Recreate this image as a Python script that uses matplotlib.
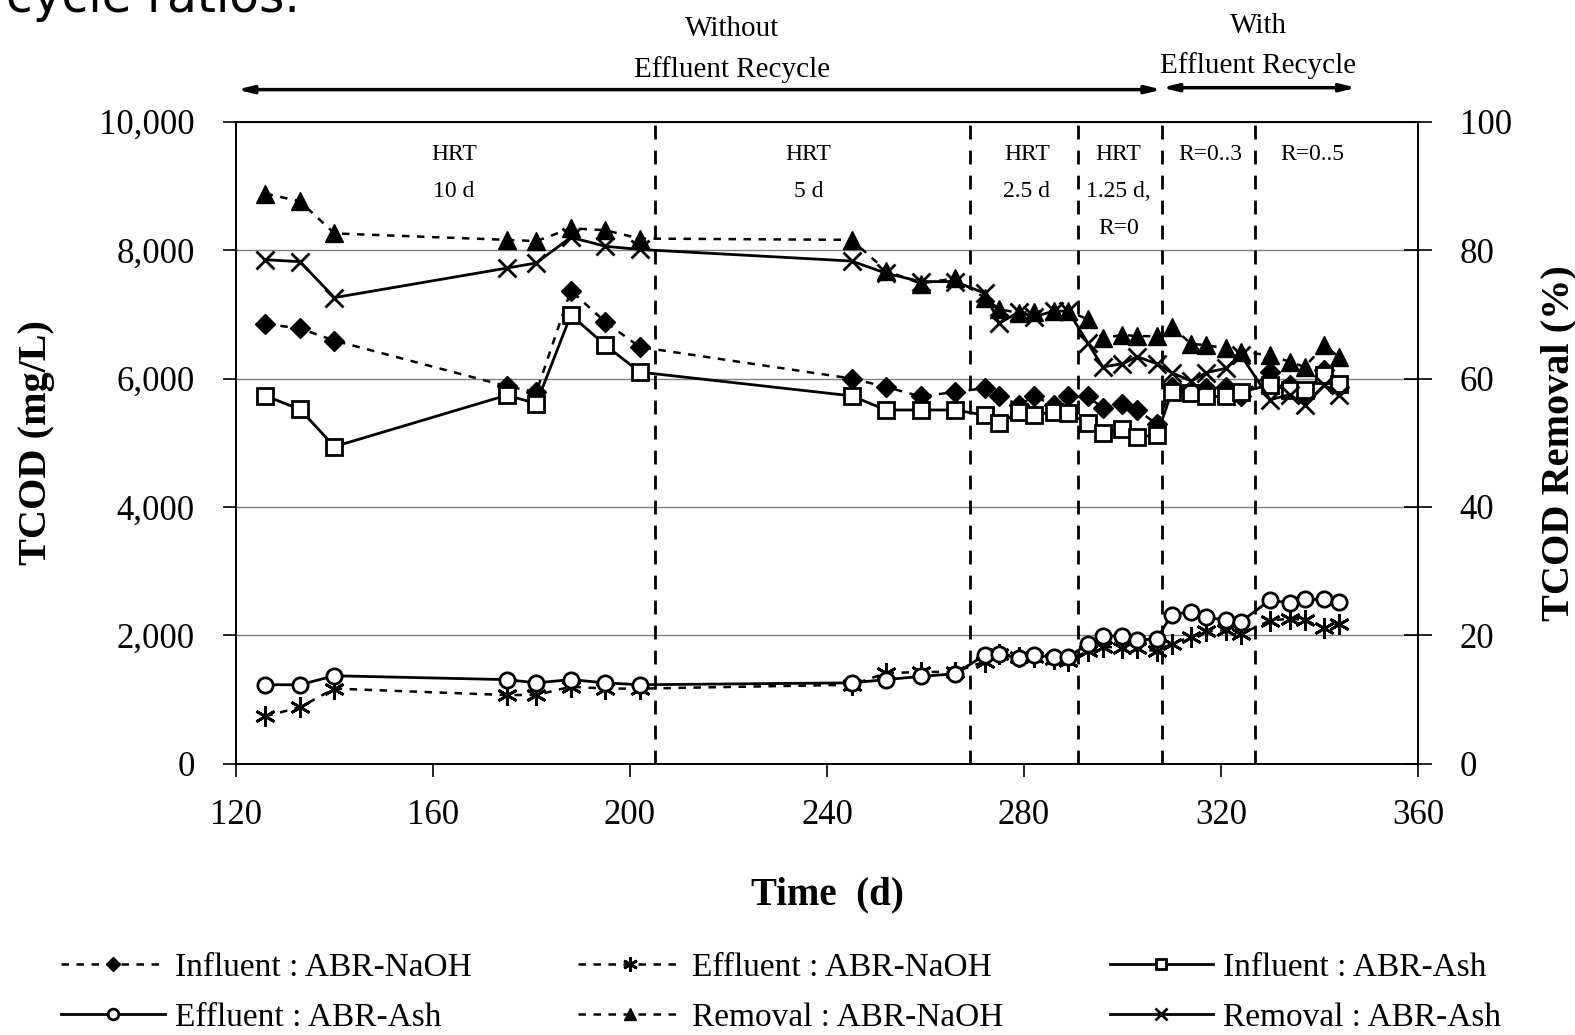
import matplotlib.pyplot as plt
from matplotlib.ticker import FuncFormatter

plt.rcParams['font.family'] = ['Liberation Serif', 'DejaVu Serif']

#  Data
# ************************
days = [126, 133, 140, 175, 181, 188, 195, 202, 245, 252, 259, 266, 272, 275, 279, 282, 286,
        289, 293, 296, 300, 303, 307, 310, 314, 317, 321, 324, 330, 334, 337, 341, 344]

# TCOD (mg/L)
inf_naoh = [6850, 6780, 6590, 5880, 5790, 7370, 6880, 6490, 6000, 5870, 5720, 5790, 5850, 5720, 5590, 5720, 5590,
            5720, 5720, 5540, 5610, 5510, 5290, 5870, 5820, 5850, 5870, 5720, 6100, 5900, 5720, 6130, 5870]
eff_naoh = [740, 880, 1170, 1070, 1070, 1200, 1170, 1170, 1230, 1410, 1430, 1430, 1590, 1710, 1670, 1670, 1630,
            1600, 1760, 1820, 1810, 1800, 1750, 1870, 1980, 2060, 2080, 2020, 2230, 2260, 2240, 2110, 2180]
inf_ash = [5730, 5520, 4940, 5740, 5610, 6990, 6520, 6100, 5730, 5510, 5510, 5510, 5430, 5300, 5480, 5430, 5480,
           5460, 5300, 5150, 5220, 5090, 5120, 5790, 5770, 5720, 5720, 5790, 5900, 5820, 5820, 6050, 5920]
eff_ash = [1230, 1230, 1370, 1310, 1260, 1310, 1260, 1230, 1260, 1310, 1360, 1400, 1690, 1710, 1640, 1690, 1660,
           1670, 1860, 1990, 1990, 1920, 1950, 2320, 2370, 2280, 2240, 2210, 2550, 2500, 2560, 2560, 2520]

# TCOD removal (%)
rem_naoh = [88.8, 87.6, 82.6, 81.6, 81.4, 83.4, 83.1, 81.8, 81.6, 76.8, 74.8, 75.6, 72.6, 70.8, 70.2, 70.4, 70.5,
            70.5, 69.2, 66.3, 66.8, 66.6, 66.6, 68.0, 65.4, 65.2, 64.7, 64.2, 63.6, 62.6, 61.8, 65.2, 63.3]
rem_ash = [78.5, 78.2, 72.6, 77.2, 78.0, 82.0, 80.6, 80.1, 78.3, 76.4, 75.1, 75.1, 73.3, 68.6, 70.4, 69.6, 70.5,
           70.5, 65.5, 61.8, 62.3, 63.4, 62.3, 60.9, 59.6, 60.9, 61.6, 63.7, 56.7, 57.5, 55.9, 59.0, 57.5]

# phase boundaries (d) and labels
phase_bounds = [205, 269, 291, 308, 327]
phase_labels = [(164.3, ["HRT", "10 d"]),
                (236.3, ["HRT", "5 d"]),
                (280.6, ["HRT", "2.5 d"]),
                (299.2, ["HRT", "1.25 d,", "R=0"]),
                (317.8, ["R=0..3"]),
                (338.5, ["R=0..5"])]

x_ticks = [120, 160, 200, 240, 280, 320, 360]
y_ticks = [0, 2000, 4000, 6000, 8000, 10000]
y2_ticks = [0, 20, 40, 60, 80, 100]


#  Figure
# *******
fig = plt.figure(figsize=(15.75, 10.35), dpi=100)
ax = fig.add_axes([0.1498, 0.2621, 0.7505, 0.6203])
ax2 = ax.twinx()

dash = (0, (3, 3))
l1, = ax.plot(days, inf_naoh, linestyle=dash, color="k", lw=1.8, marker="D", ms=10,
              mfc="k", mec="k", label="Influent : ABR-NaOH")
l2, = ax.plot(days, eff_naoh, linestyle=dash, color="k", lw=1.8, marker=(6, 2, 0), ms=15,
              mec="k", mew=2, label="Effluent : ABR-NaOH")
l3, = ax.plot(days, inf_ash, linestyle="-", color="k", lw=2, marker="s", ms=11,
              mfc="w", mec="k", mew=2, label="Influent : ABR-Ash")
l4, = ax.plot(days, eff_ash, linestyle="-", color="k", lw=2, marker="o", ms=11,
              mfc="w", mec="k", mew=2, label="Effluent : ABR-Ash")
l5, = ax2.plot(days, rem_naoh, linestyle=dash, color="k", lw=1.8, marker="^", ms=13,
               mfc="k", mec="k", label="Removal : ABR-NaOH")
l6, = ax2.plot(days, rem_ash, linestyle="-", color="k", lw=2, marker="x", ms=13,
               mec="k", mew=2, label="Removal : ABR-Ash")

# phase separators
for b in phase_bounds:
    ax.axvline(b, color="k", lw=2, linestyle=(0, (5, 4)), zorder=1)

for xpos, lines in phase_labels:
    for i, txt in enumerate(lines):
        ax.text(xpos, 9490 - i * 580, txt, ha="center", va="center", fontsize=17)

# recycle arrows above the plot
arrow_kw = dict(arrowstyle="<|-|>,head_length=0.9,head_width=0.22", color="k", lw=2.5,
                shrinkA=0, shrinkB=0)
ax.annotate("", xy=(120.2, 10500), xytext=(308, 10500), arrowprops=arrow_kw, annotation_clip=False)
ax.annotate("", xy=(308, 10530), xytext=(347.5, 10530), arrowprops=arrow_kw, annotation_clip=False)
ax.text(220.7, 11440, "Without", ha="center", va="center", fontsize=21)
ax.text(220.7, 10820, "Effluent Recycle", ha="center", va="center", fontsize=21)
ax.text(327.6, 11490, "With", ha="center", va="center", fontsize=21)
ax.text(327.6, 10870, "Effluent Recycle", ha="center", va="center", fontsize=21)

# axes
ax.set_xlim(120, 360)
ax.set_ylim(0, 10000)
ax2.set_ylim(0, 100)
ax.set_xticks(x_ticks)
ax.set_yticks(y_ticks)
ax2.set_yticks(y2_ticks)
ax.yaxis.set_major_formatter(FuncFormatter(lambda v, p: "{:,.0f}".format(v)))
ax.grid(axis="y", color="#808080", lw=1)
ax.set_axisbelow(True)

ax.tick_params(axis="both", labelsize=25, direction="out", length=9.5, width=1.2)
ax.tick_params(axis="y", pad=20)
ax.tick_params(axis="x", pad=16)
ax2.tick_params(axis="y", labelsize=25, direction="inout", length=20, width=1.2, pad=20)
for a in (ax, ax2):
    for s in a.spines.values():
        s.set_linewidth(1.2)

ax.set_xlabel("Time  (d)", fontsize=28, fontweight="bold")
ax.xaxis.set_label_coords(0.5, -0.175)
ax.set_ylabel("TCOD (mg/L)", fontsize=29, fontweight="bold")
ax.yaxis.set_label_coords(-0.153, 0.5)
ax2.set_ylabel("TCOD Removal (%)", fontsize=29, fontweight="bold")
ax2.yaxis.set_label_coords(1.104, 0.5)

# slide text cut off at the top
fig.text(0.004, 1 - 12 / 1035, "cycle ratios.", fontsize=35, family="DejaVu Sans",
         ha="left", va="baseline")

handles = [l1, l4, l2, l5, l3, l6]
fig.legend(handles=handles, labels=[h.get_label() for h in handles], ncol=3,
           loc="center", bbox_to_anchor=(0.496, 0.041), frameon=False, fontsize=24,
           handlelength=3.1, handletextpad=0.3, columnspacing=3.2, labelspacing=0.6,
           markerscale=0.7, borderpad=0.2)

fig.savefig("out.png", dpi=100)
